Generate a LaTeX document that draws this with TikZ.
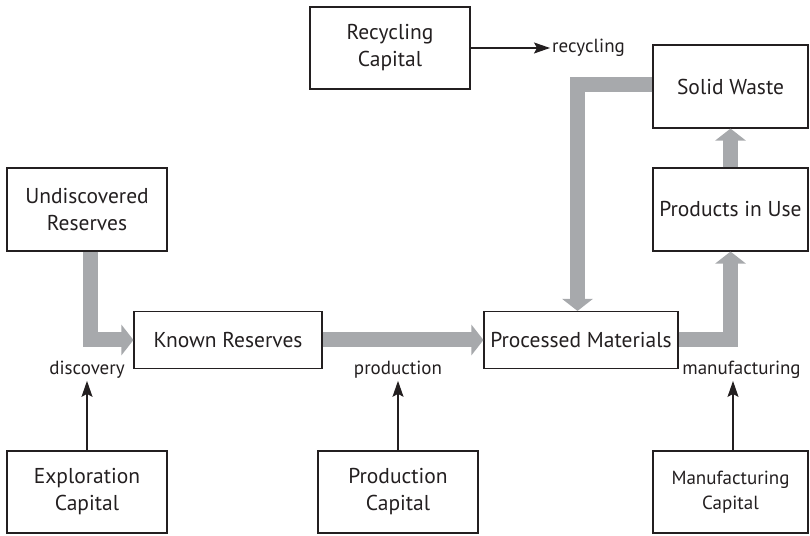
\documentclass[tikz,border=0pt]{standalone}
\usepackage{fontspec}
\setmainfont{PT Sans}
\usepackage{xcolor}
\usepackage{tikz}
\usetikzlibrary{
  arrows.meta,
  positioning,
  calc
}
\definecolor{flowgray}{HTML}{A7A9AC}
\definecolor{inkgray}{HTML}{231F20}

\begin{document}
\begin{tikzpicture}[x=1pt, y=1pt,
  box/.style={draw=inkgray, line width=1.1pt, align=center, text=inkgray,
    font=\fontsize{21.5}{27}\selectfont, inner sep=0pt},
  lab/.style={text=inkgray, font=\fontsize{19}{22}\selectfont, inner sep=2pt},
  flow/.style={draw=flowgray, line width=15pt, line join=miter,
    -{Triangle[length=12pt,width=30pt]}},
  feed/.style={draw=inkgray, line width=1.3pt,
    -{Stealth[length=16pt,width=11pt,inset=3pt]}}]
\useasboundingbox (0,0) rectangle (810,535);

% stocks
\node[box, minimum width=160pt, minimum height=83pt] (undisc) at (87,325.5) {Undiscovered\\Reserves};
\node[box, minimum width=188pt, minimum height=57pt] (known) at (228,195) {Known Reserves};
\node[box, minimum width=194pt, minimum height=57pt] (proc) at (581,195) {Processed Materials};
\node[box, minimum width=155pt, minimum height=83pt] (inuse) at (730.5,325.5) {Products in Use};
\node[box, minimum width=155pt, minimum height=83pt] (waste) at (730.5,448.5) {Solid Waste};

% capital
\node[box, minimum width=160pt, minimum height=82pt] (recap) at (390,487) {Recycling\\Capital};
\node[box, minimum width=160pt, minimum height=82pt] (expcap) at (87,43) {Exploration\\Capital};
\node[box, minimum width=160pt, minimum height=82pt] (prodcap) at (398,43) {Production\\Capital};
\node[box, minimum width=155pt, minimum height=82pt, font=\fontsize{19}{25}\selectfont] (mancap) at (730.5,43) {Manufacturing\\Capital};

% flow labels
\node[lab] (disc) at (87,165) {discovery};
\node[lab] (prodn) at (398,165) {production};
\node[lab] (manuf) at (741.5,165) {manufacturing};
\node[lab, anchor=west] (recyc) at (550,487) {recycling};

% gray material flows
\draw[flow] ([xshift=3pt]undisc.south) |- (known.west);
\draw[flow] (known.east) -- (proc.west);
\draw[flow] (proc.east) -| (inuse.south);
\draw[flow] (inuse.north) -- (waste.south);
\draw[flow] ([yshift=2pt]waste.west) -| ([xshift=-3.5pt]proc.north);

% capital inputs
\draw[feed] (expcap.north) -- (expcap.north |- disc.south);
\draw[feed] (prodcap.north) -- (prodcap.north |- prodn.south);
\draw[feed] ([xshift=2.5pt]mancap.north) -- ([xshift=2.5pt]mancap.north |- manuf.south);
\draw[feed] (recap.east) -- (recyc.west);
\end{tikzpicture}
\end{document}
